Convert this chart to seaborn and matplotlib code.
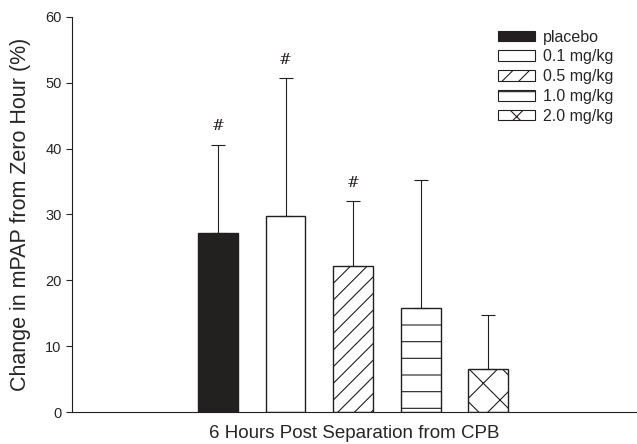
import numpy as np
import pandas as pd
import matplotlib
matplotlib.use("Agg")
import matplotlib.pyplot as plt
import seaborn as sns
from matplotlib.patches import Patch

# values
doses = ["placebo", "0.1 mg/kg", "0.5 mg/kg", "1.0 mg/kg", "2.0 mg/kg"]
means = [27.2, 29.7, 22.2, 15.8, 6.6]
upper = [40.6, 50.7, 32.0, 35.2, 14.8]
signif = [True, True, True, False, False]
fills = ["#231f20", "white", "white", "white", "white"]
hatches = ["", "", "//", "-", "x"]

sns.set_style("ticks")
plt.rcParams["font.family"] = ["Liberation Sans", "DejaVu Sans"]
plt.rcParams["hatch.linewidth"] = 0.8

df = pd.DataFrame({"dose": doses, "change": means})

fig = plt.figure(figsize=(6.37, 4.44), dpi=100)
ax = fig.add_axes([0.113, 0.072, 0.887, 0.89])

sns.barplot(data=df, x="dose", y="change", hue="dose", palette=fills,
            dodge=False, legend=False, width=0.59, edgecolor="#231f20",
            linewidth=1.0, ax=ax)

for bar, h in zip(ax.patches, hatches):
    bar.set_hatch(h)

x = np.arange(len(doses))
err = np.array(upper) - np.array(means)
ax.errorbar(x, means, yerr=[np.zeros(len(err)), err], fmt="none",
            ecolor="#231f20", elinewidth=0.8, capsize=5, capthick=0.8)

for xi, top, s in zip(x, upper, signif):
    if s:
        ax.text(xi, top + 1.7, "#", ha="center", va="bottom",
                fontsize=11, family="DejaVu Serif", color="#231f20")

ax.set_xlim(-2.16, 6.2)
ax.set_ylim(0, 60)
ax.set_yticks(range(0, 61, 10))
ax.set_xticks([])
ax.set_xlabel("6 Hours Post Separation from CPB", fontsize=13.5, labelpad=9)
ax.set_ylabel("Change in mPAP from Zero Hour (%)", fontsize=15.5, labelpad=10)
ax.tick_params(axis="y", labelsize=10.5, length=4, width=0.8)
sns.despine(ax=ax)
for sp in ax.spines.values():
    sp.set_linewidth(0.8)
    sp.set_color("#231f20")

handles = [Patch(facecolor=f, edgecolor="#231f20", hatch=h, linewidth=0.8)
           for f, h in zip(fills, hatches)]
ax.legend(handles, doses, loc="upper left", bbox_to_anchor=(0.754, 0.968),
          frameon=False, fontsize=11.5, handlelength=2.3, handleheight=0.65,
          labelspacing=0.3, handletextpad=0.5, borderpad=0,
          borderaxespad=0)

fig.savefig("out.png", dpi=100)
